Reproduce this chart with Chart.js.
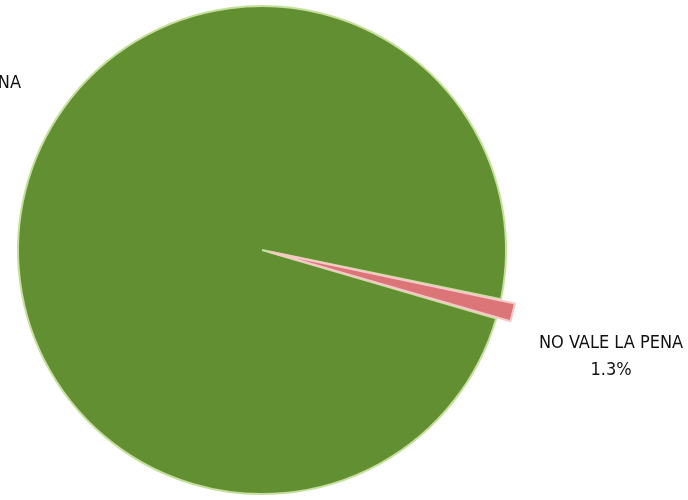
<!DOCTYPE html>
<html lang="es">
<head>
  <meta charset="UTF-8">
  <title>Vale la pena</title>
  <script src="https://cdn.jsdelivr.net/npm/chart.js"></script>
  <style>
    html, body { margin: 0; padding: 0; background: #fff; }
    #wrap { width: 688px; height: 500px; }
  </style>
</head>
<body>
  <div id="wrap"><canvas id="pie" width="688" height="500"></canvas></div>
  <script>
    const categories = ['VALE LA PENA', 'NO VALE LA PENA'];
    const percentages = [98.7, 1.3];
    const sliceColors = ['#628f31', '#db7577'];

    // labels drawn beside the pie, like the original sheet
    const labelSpots = [
      { x: 21, y: 83, align: 'right' },
      { x: 611, y: 343, align: 'center' }
    ];

    const outsideLabels = {
      id: 'outsideLabels',
      afterDraw(chart) {
        const ctx = chart.ctx;
        ctx.save();
        ctx.fillStyle = '#111';
        ctx.font = '18px "Liberation Sans Narrow", "DejaVu Sans Condensed", sans-serif';
        ctx.textBaseline = 'middle';
        categories.forEach((name, i) => {
          const s = labelSpots[i];
          ctx.textAlign = s.align;
          ctx.fillText(name, s.x, s.y);
          const w = ctx.measureText(name).width;
          const cx = s.align === 'right' ? s.x - w / 2 : s.x;
          ctx.textAlign = 'center';
          ctx.fillText(percentages[i].toFixed(1) + '%', cx, s.y + 27);
        });
        ctx.restore();
      }
    };

    new Chart(document.getElementById('pie'), {
      type: 'pie',
      data: {
        labels: categories,
        datasets: [{
          data: percentages,
          backgroundColor: sliceColors,
          borderColor: ['#c5e09c', '#f6c8c8'],
          borderWidth: 2,
          offset: [0, 30]
        }]
      },
      options: {
        responsive: false,
        animation: false,
        rotation: 106.3,
        radius: 244,
        layout: { padding: { left: 0, right: 164, top: 0, bottom: 0 } },
        plugins: {
          legend: { display: false },
          tooltip: { enabled: false }
        }
      },
      plugins: [outsideLabels]
    });
  </script>
</body>
</html>
